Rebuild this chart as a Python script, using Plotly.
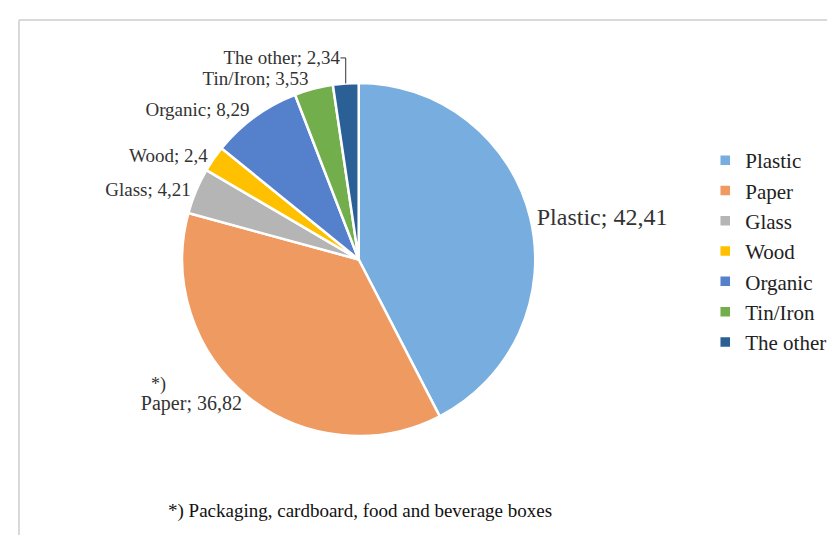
import plotly.graph_objects as go

categories = ["Plastic", "Paper", "Glass", "Wood", "Organic", "Tin/Iron", "The other"]
values = [42.41, 36.82, 4.21, 2.4, 8.29, 3.53, 2.34]
colors = ["#78ADE0", "#EE9A60", "#B5B5B5", "#FFC000", "#5580CC", "#72AE4C", "#2A6096"]
label_sizes = [24, 20, 19, 19, 19, 19, 19]

SERIF = "Liberation Serif, Times New Roman, serif"

fig = go.Figure()
fig.add_trace(go.Pie(
    labels=categories,
    values=values,
    sort=False,
    direction="clockwise",
    rotation=0,
    marker=dict(colors=colors, line=dict(color="white", width=2.5)),
    texttemplate="%{label}; %{value}",
    textposition="outside",
    textfont=dict(family=SERIF, size=label_sizes, color="#333333"),
    hoverinfo="label+value",
    domain=dict(x=[0.12, 0.72], y=[0.2, 0.86]),
))

fig.update_layout(
    width=835, height=535,
    paper_bgcolor="white",
    separators=",.",
    margin=dict(l=0, r=0, t=0, b=0, autoexpand=False),
    showlegend=True,
    legend=dict(
        x=0.835, y=1 - 132/535, xanchor="left", yanchor="top",
        font=dict(family=SERIF, size=21, color="#222222"),
        bgcolor="rgba(0,0,0,0)",
    ),
    shapes=[
        dict(type="line", xref="paper", yref="paper", x0=11/835, x1=1.0, y0=1 - 12/535, y1=1 - 12/535,
             line=dict(color="#D9D9D9", width=2)),
        dict(type="line", xref="paper", yref="paper", x0=11/835, x1=11/835, y0=0, y1=1 - 12/535,
             line=dict(color="#D9D9D9", width=2)),
    ],
    annotations=[
        dict(text="*) Packaging, cardboard, food and beverage boxes", xref="paper", yref="paper",
             x=352/835, y=1 - 503/535, xanchor="center", yanchor="middle", showarrow=False,
             font=dict(family=SERIF, size=19, color="#111111")),
        dict(text="*)", xref="paper", yref="paper",
             x=150/835, y=1 - 376/535, xanchor="center", yanchor="middle", showarrow=False,
             font=dict(family=SERIF, size=18, color="#333333")),
    ],
)

fig.write_html("out.html")
